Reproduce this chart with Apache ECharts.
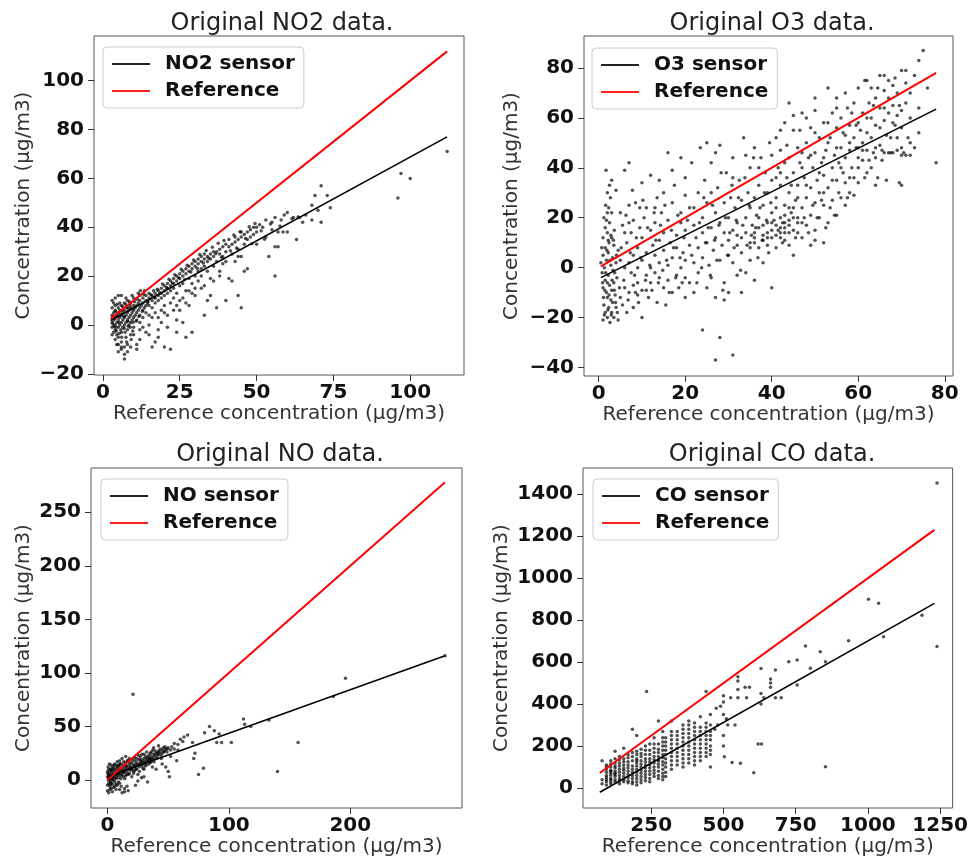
<!DOCTYPE html>
<html>
<head>
<meta charset="utf-8">
<script src="https://cdn.jsdelivr.net/npm/echarts@6/dist/echarts.min.js"></script>
<style>
html,body{margin:0;padding:0;background:#fff;}
#chart{width:971px;height:858px;}
</style>
</head>
<body>
<div id="chart"></div>
<script>
// ---------------- DATA ----------------
const panelTitles = ['Original NO2 data.', 'Original O3 data.', 'Original NO data.', 'Original CO data.'];
const sensorNames = ['NO2 sensor', 'O3 sensor', 'NO sensor', 'CO sensor'];
const refName = 'Reference';
const xAxisName = 'Reference concentration (µg/m3)';
const yAxisName = 'Concentration (µg/m3)';

// tick labels
const no2XTicks = [0, 25, 50, 75, 100];
const no2YTicks = [-20, 0, 20, 40, 60, 80, 100];
const o3XTicks = [0, 20, 40, 60, 80];
const o3YTicks = [-40, -20, 0, 20, 40, 60, 80];
const noXTicks = [0, 100, 200];
const noYTicks = [0, 50, 100, 150, 200, 250];
const coXTicks = [250, 500, 750, 1000, 1250];
const coYTicks = [0, 200, 400, 600, 800, 1000, 1200, 1400];

// reference (y = x) lines and sensor fit lines
const no2Ref = [[2.5, 2.5], [112, 112]];
const no2Fit = [[2.5, 1.8], [112, 77]];
const o3Ref = [[0.5, 0.5], [78, 78]];
const o3Fit = [[0.5, -4], [78, 63.5]];
const noRef = [[0, 0], [278, 278]];
const noFit = [[0, 3], [278, 116]];
const coRef = [[72, 72], [1230, 1230]];
const coFit = [[72, -20], [1230, 880]];

// scatter points (reference, sensor)
const no2Points = [
[3,1],[3,4],[3,-1],[3,7],[3.5,2],[3.5,-3],[3.5,5],[4,0],[4,3],[4,6],[4,-2],[4,8],[4.5,1],[4.5,4],[4.5,-4],
[5,2],[5,5],[5,-1],[5,7],[5,-5],[5.5,3],[5.5,0],[5.5,6],[6,1],[6,4],[6,8],[6,-3],[6,-7],[6.5,2],[6.5,5],[6.5,-1],
[7,3],[7,6],[7,0],[7,9],[7,-14],[7,-9],[7.5,4],[7.5,1],[7.5,-5],[8,5],[8,2],[8,7],[8,-2],[8,10],[8.5,3],[8.5,6],[8.5,0],
[9,4],[9,7],[9,1],[9,9],[9,-4],[9.5,5],[9.5,2],[10,6],[10,3],[10,8],[10,-1],[10,11],[10.5,4],[10.5,7],[11,5],[11,8],[11,2],
[11,-10],[11,-8],[11.5,6],[11.5,9],[12,7],[12,4],[12,10],[12,1],[12,12],[12.5,8],[13,9],[13,6],[13,3],[13,11],[13.5,7],
[3.2,0.5],[3.8,2.5],[4.2,-1],[4.8,3.5],[5.2,1],[5.8,-2],[6.2,6],[6.8,3.5],[7.2,-3],[7.8,7],[8.2,-0.5],[8.8,8],[9.2,-6],[9.8,1],
[4,-6],[5,-8],[6,-10],[8,-8],[10,-4],[12,-2],[3.5,9],[5.5,9],[7.5,11],[9.5,12],[11.5,13],[13.5,14],[3,-4],[4.5,-8],
[3.3,3.3],[3.6,-0.5],[4.1,5.5],[4.4,-2.5],[4.7,8.5],[5.3,-3.5],[5.6,4.5],[6.1,-5],[6.4,7.5],[6.9,-1.5],[7.4,8.5],[7.7,-7],
[8.1,1.5],[8.6,9.5],[8.9,-1],[9.4,6.5],[9.7,-2.5],[10.3,9.5],[10.8,1.5],[11.2,10.5],[11.7,3.5],[12.2,14],[12.8,5.5],[13.3,12.5],
[3,10],[4,11],[5,12],[6,12],[7,-12],[8,-11],[6,-9],[5,-11],
[14,10],[14,8],[14,5],[14,12],[14,-3],[14.5,9],[15,11],[15,8],[15,4],[15,13],[15,0],[16,10],[16,12],[16,7],[16,-9],[16.5,14],
[17,11],[17,13],[17,9],[17,5],[17,-7],[18,12],[18,14],[18,10],[18,3],[18,-2],[19,13],[19,15],[19,11],[19,6],[20,14],[20,16],
[20,12],[20,8],[20,-9],[21,15],[21,17],[21,13],[21,4],[22,16],[22,18],[22,14],[22,9],[22,-10],[23,17],[23,19],[23,15],[23,6],
[24,18],[24,20],[24,13],[24,2],[25,19],[25,21],[25,16],[25,10],[26,20],[26,22],[26,17],[26,1],[27,21],[27,23],[27,14],[27,-5],
[28,22],[28,24],[28,19],[28,8],[29,23],[29,25],[29,17],[29,-3],[30,24],[30,26],[30,20],[30,12],[31,25],[31,27],[31,22],
[32,26],[32,28],[32,23],[32,15],[33,27],[33,29],[33,24],[33,4],[34,28],[34,26],[34,22],[35,29],[35,27],[35,19],[36,30],
[36,28],[36,24],[37,30],[37,26],[37,7],[38,31],[38,29],[38,22],[39,32],[39,28],[40,33],[40,30],[40,26],[40,10],[41,32],
[41,35],[42,33],[42,29],[42,18],[43,34],[43,36],[43,26],[44,35],[44,31],[44,12],[45,36],[45,38],[45,28],[45,7],[46,37],
[46,33],[46,22],[47,38],[47,35],[48,39],[48,36],[49,40],[49,37],[50,40],[50,38],[50,33],[51,41],[52,40],[53,43],[53,36],
[54,28],[55,42],[55,39],[56,44],[56,20],[57,38],[57,32],[58,43],[59,45],[60,46],[60,38],[62,44],[63,35],[64,44],[65,42],
[66,45],[68,49],[68,43],[69,53],[70,47],[71,57],[71,42],[73,53],[74,48],[96,52],[97,62],[100,60],[112,71],
[16,3],[19,1],[21,-1],[23,11],[25,6],[27,9],[29,13],[31,18],[33,16],[35,12],[24,8],[28,14],[32,20],[36,18],[39,25],
[14.7,9.5],[15.6,12.4],[16.8,11.2],[17.7,14.6],[18.6,13.1],[19.4,16.8],[20.7,15.3],[21.5,18.7],[22.6,17.2],[23.4,20.5],
[24.6,19.3],[25.5,22.8],[26.6,18.6],[27.4,24.4],[28.6,21.7],[29.5,26.6],[30.7,23.2],[31.5,28.8],[32.7,25.4],[33.6,30.5],
[34.4,27.3],[35.6,31.8],[36.7,29.1],[37.5,33.4],[38.6,27.7],[39.4,34.6],[41.5,30.4],[42.6,36.8],[43.5,31.5],[44.6,38.2],
[46.4,35.4],[47.6,40.2],[48.5,33.2],[49.5,41.5],[51.5,38.6],[52.6,35.1],[54.5,41.3],[57.6,40.5],[58.6,38.1],[61.5,43.5],
[63.5,44.2],[44,28],[38,20],[30,15],[26,11],[20,5],[18,-5],[15,-4],[12,-6],[9,-9],[13,-1],[24,-3],[34,10],[41,19],[47,23],[56,32]
];

const o3Points = [
[0.5,2],[0.8,-2],[1,5],[1,-8],[1,12],[1.2,-15],[1.3,0],[1.5,8],[1.5,-5],[1.5,-18],[1.6,25],[1.7,39],[1.8,-10],[1.8,3],
[2,14],[2,-12],[2,-20],[2,30],[2.2,6],[2.2,-3],[2.3,-16],[2.4,10],[2.5,33],[2.5,-7],[2.5,18],[2.6,-22],[2.8,1],[2.8,-13],
[3,12],[3,-9],[3,22],[3,-18],[3.2,4],[3.3,-1],[3.5,9],[3.5,-6],[3.5,-20],[3.6,15],[3.8,-11],[4,2],[4,-16],[4,31],[4.2,-4],
[4.5,7],[4.5,-21],[4.8,-8],[1,-21],[1.5,16],[2,-6],[2.7,28],[3.2,-14],[2.2,11],[1.8,19],[3.7,-2],[0.7,8],[1.1,-12],
[1.2,20],[1.4,-9],[1.9,7],[2.1,-17],[2.3,24],[2.6,3],[2.9,-19],[3.1,-5],[3.4,11],[3.9,-14],[1.6,-2],[2.4,-11],[0.9,-6],
[3.0,35],[2.0,22],[1.3,-19],[2.8,13],[3.6,-9],[4.3,-18],[4.1,5],
[5,22],[5,-12],[5,3],[5.5,-15],[5.5,17],[6,-8],[6,39],[6,0],[6.5,10],[6.5,-18],[7,2],[7,-10],[7,42],[7,25],[7.5,-2],[7.5,14],
[8,-7],[8,19],[8,5],[8.5,-10],[8.5,26],[9,0],[9,8],[9,-6],[9.5,24],[9.5,16],[10,-20],[10,3],[10,-9],[10,12],[10.5,20],
[11,-3],[11,6],[11,24],[11.5,-12],[12,0],[12,15],[12,37],[12,-6],[12.5,9],[13,-2],[13,18],[13,5],[13.5,-14],[13.5,28],
[14,-4],[14,11],[14,2],[14.5,22],[15,-8],[15,7],[15,30],[15,14],[15.5,-15],[16,1],[16,46],[16,19],[16,-5],[16.5,10],
[17,-10],[17,4],[17,26],[17.5,33],[18,-3],[18,13],[18,8],[18.5,-8],[19,22],[19,0],[19,44],[19.5,6],[20,-12],[20,15],
[20,3],[20,36],[20,29],[20,-4],
[5.2,8],[5.8,-5],[6.3,21],[6.8,-13],[7.3,6],[7.8,31],[8.3,-3],[8.7,12],[9.2,-14],[9.7,4],[10.2,27],[10.8,-5],[11.3,16],
[11.8,1],[12.3,-9],[12.8,22],[13.2,11],[13.8,-6],[14.3,17],[14.8,-1],[15.3,25],[15.7,3],[16.3,-10],[16.8,15],[17.3,8],
[17.8,-4],[18.3,21],[18.8,4],[19.3,-6],[19.7,12],[6,14],[8,-16],[11,-9],[14,35],[17,39],[19,18],[10,34],[7,18],[9,-11],[13,24],
[21,9],[21,-6],[21,24],[21.5,42],[22,2],[22,17],[22,-10],[22.5,12],[23,30],[23,-2],[23,8],[23.5,48],[24,-25],[24,14],
[24,20],[24,4],[24.5,35],[25,-8],[25,10],[25,50],[25,26],[25.5,1],[26,16],[26,-4],[26,42],[26.5,7],[27,-37],[27,22],
[27,12],[27,-12],[27.5,32],[28,-28],[28,3],[28,18],[28,49],[28.5,9],[29,26],[29,-6],[29,14],[29.5,38],[30,5],[30,20],
[30,11],[30,-10],[30.5,28],[31,-35],[31,15],[31,44],[31,2],[31.5,24],[32,9],[32,18],[32,-3],[32.5,35],[33,12],[33,27],
[33,6],[33.5,52],[34,20],[34,-2],[34,14],[34.5,30],[35,10],[35,24],[35,40],[35,3],[35.5,17],[36,12],[36,28],[36,48],
[36,-5],[36.5,21],[37,8],[37,33],[37,16],[37.5,44],[38,13],[38,25],[38,2],[38.5,38],[39,18],[39,30],[39,9],[39.5,50],
[40,15],[40,22],[40,35],[40,12],[40,45],[40,-8],
[20.5,19],[21.5,5],[22,24],[22.7,-6],[23.3,18],[23.8,0],[24.3,28],[24.7,10],[25.3,16],[25.8,-3],[26.3,25],[26.8,11],
[27.3,3],[27.8,17],[28.3,38],[28.7,-9],[29.3,20],[29.8,5],[30.3,14],[30.8,33],[31.3,8],[31.8,19],[32.3,28],[32.8,-1],
[33.3,17],[33.8,36],[34.3,9],[34.8,25],[35.3,13],[35.8,44],[36.3,16],[36.8,4],[37.3,24],[37.8,11],[38.3,30],[38.8,19],
[39.3,6],[39.8,26],[37,40],[34,45],[31,36],[27,46],[33,-10],[29,-13],[26,30],[38,17],[36,14],[39,12],[35,8],[32,13],
[41,17],[41,28],[41,52],[41,8],[41.5,40],[42,14],[42,20],[42,33],[42,47],[42.5,18],[43,16],[43,25],[43,58],[43,11],
[43.5,36],[44,19],[44,30],[44,44],[44,66],[44.5,22],[45,5],[45,15],[45,38],[45,55],[45.5,27],[46,18],[46,33],[46,48],
[46,20],[46.5,42],[47,62],[47,24],[47,12],[47.5,36],[48,28],[48,50],[48,17],[48.5,44],[49,9],[49,32],[49,56],[49,21],
[49.5,40],[50,26],[50,46],[50,63],[50,15],[50.5,35],[51,30],[51,52],[51,20],[51.5,42],[52,10],[52,37],[52,58],[52,25],
[52.5,47],[53,72],[53,32],[53,18],[53.5,52],[54,40],[54,27],[54,62],[54.5,45],[55,21],[55,35],[55,56],[55,68],[55.5,42],
[56,28],[56,48],[56,60],[56.5,38],[57,25],[57,53],[57,44],[57.5,64],[58,30],[58,57],[58,47],[58.5,40],[59,29],[59,52],
[59,66],[59.5,48],[60,34],[60,44],[60,58],[60,72],[60,40],
[40.5,19],[41,24],[41.5,15],[42,38],[42.5,10],[43,21],[43.5,49],[44,14],[44.5,33],[45,24],[45.5,12],[46,28],[46.5,55],
[47,40],[47.5,20],[48,33],[48.5,14],[49,45],[49.5,25],[50,54],[50.5,20],[51,38],[51.5,27],[52,44],[52.5,16],[53,50],
[53.5,24],[54,35],[54.5,21],[55,48],[55.5,30],[56,40],[56.5,54],[57,34],[57.5,28],[58,50],[58.5,62],[59,36],[59.5,57],
[60,48],[48,60],[50,68],[45,61],[42,55],[55,64],[57,70],[44,9],[46,14],[50,11],[52,30],[41,36],[43,42],[47,46],[53,58],[58,36],
[61,50],[61,62],[61,43],[61.5,75],[62,38],[62,54],[62,47],[62.5,66],[63,40],[63,60],[63,72],[63.5,46],[64,44],[64,57],
[64,68],[64.5,36],[65,49],[65,64],[65,77],[65.5,43],[66,46],[66,59],[66,71],[66.5,35],[67,46],[67,62],[67,75],[67.5,52],
[68,46],[68,65],[68,73],[68.5,57],[69,47],[69,61],[69,70],[69.5,34],[70,33],[70,79],[70,63],[70,48],[71,45],[71,79],
[71,74],[71.5,52],[72,45],[72,70],[74,54],[74,83],[75,87],[78,42],
[60.5,55],[61,47],[61.5,36],[62,60],[62.5,43],[63,52],[63.5,65],[64,48],[64.5,72],[65,56],[65.5,47],[66,64],[66.5,53],
[67,68],[67.5,46],[68,58],[68.5,76],[69,52],[69.5,65],[70,56],[70.5,46],[71,66],[72,60],[73,48],[73,77],[74,64],[76,72],
[62,75],[66,77],[64,33],[70,45],[72,50],
[42,16],[43,18],[41,13],[44,17],[42,12],[43,14],[38,11],[39,14],[36,10],[45,20],[47,18],[40,18],[37,20],[44,24]
];

const noPoints = [
[0,-5],[0,3],[0,8],[0,-10],[0.5,0],[0.5,12],[1,5],[1,-3],[1,-12],[1.5,2],[1.5,15],[2,8],[2,-6],[2,0],[2,4],[2.5,10],
[2.5,-2],[3,6],[3,-8],[3,14],[3,1],[3.5,3],[4,9],[4,-4],[4,12],[4,-11],[4.5,5],[5,0],[5,7],[5,11],[5,-7],[5.5,3],
[6,10],[6,-2],[6,15],[6,5],[7,8],[7,1],[7,-9],[7,13],[8,4],[8,11],[8,-5],[8,17],[8,7],[9,9],[9,2],[9,14],[10,6],
[10,12],[10,-3],[10,18],[10,9],[11,8],[11,15],[11,1],[12,11],[12,5],[12,-12],[12,20],[13,9],[13,14],[13,3],[14,12],
[14,7],[14,-8],[15,10],[15,16],[15,4],[15,22],[16,13],[16,8],[17,11],[17,18],[17,-10],[18,14],[18,6],[18,20],[19,12],
[19,9],[20,16],[20,3],[20,11],[21,80],[21,14],[22,18],[22,8],[22,13],[23,15],[23,-5],[24,17],[24,10],[24,20],[25,14],
[25,5],[26,19],[26,12],[27,16],[27,22],[28,13],[28,2],[29,18],[29,15],[30,20],[30,10],[30,24],[31,17],[32,19],[32,14],
[33,21],[33,-2],[34,18],[34,23],[35,20],[35,16],[36,22],[36,26],[37,19],[37,12],[38,24],[38,21],[39,23],[40,25],[40,20],
[41,22],[42,27],[42,24],[43,26],[44,23],[45,28],[45,25],[46,30],[47,27],[48,29],[48,12],[49,26],[50,30],[50,8],[51,3],
[52,28],[53,31],[55,29],[57,18],[58,33],[60,38],[62,36],[63,40],[66,42],[70,35],[71,20],[72,25],[75,5],[79,11],[80,44],
[84,50],[88,46],[90,35],[92,43],[94,35],[102,35],[112,57],[113,52],[118,50],[133,56],[140,8],[157,35],[186,78],[196,95],
[278,116],
[1,1],[2,-9],[3,-3],[4,2],[6,-6],[7,5],[9,-2],[11,4],[13,7],[16,5],[18,10],[21,9],[23,12],[26,15],[28,17],[31,13],[34,15],[36,17],
[0.3,6],[1.2,10],[2.2,-4],[3.3,9],[4.2,0],[5.3,14],[6.3,2],[7.3,-4],[8.3,13],[9.3,5],[10.3,15],[11.3,-6],[12.3,8],[13.3,17],
[14.3,1],[15.3,13],[16.3,18],[17.3,5],[18.3,16],[19.3,11],[20.3,19],[21.3,6],[22.3,21],[23.3,10],[24.3,14],[25.3,23],
[26.3,8],[27.3,19],[28.3,24],[29.3,11],[30.3,16],[31.3,22],[32.3,26],[33.3,18],[34.3,20],[35.3,25],[36.3,19],[37.3,28],
[38.3,17],[39.3,27],[41.3,25],[43.3,29],[44.3,20],[46.3,26],[47.3,31],[49.3,29],[16,-6],[10,-9],[14,-11],[25,-1],[30,3],
[40,10],[45,15],[52,22],[55,34],[58,28],[42,32],[38,30]
];

const coPoints = [
[80,130],[80,40],[80,20],
[95,30],[95,60],[95,90],[95,110],[95,15],[95,40],[95,75],[95,100],[95,50],
[110,20],[110,45],[110,70],[110,100],[110,130],[110,40],[110,30],[110,60],[110,80],[110,115],[110,85],
[125,30],[125,55],[125,80],[125,105],[125,140],[125,175],[125,40],[125,70],[125,95],[125,120],[125,65],
[140,35],[140,60],[140,90],[140,120],[140,150],[140,45],[140,75],[140,135],[140,20],[140,105],
[155,40],[155,70],[155,95],[155,125],[155,190],[155,30],[155,85],[155,110],[155,140],[155,55],
[170,25],[170,50],[170,80],[170,110],[170,145],[170,35],[170,65],[170,125],[170,160],[170,95],
[185,30],[185,60],[185,90],[185,130],[185,170],[185,280],[185,45],[185,105],[185,150],[185,20],[185,75],
[200,15],[200,45],[200,75],[200,105],[200,140],[200,175],[200,250],[200,30],[200,90],[200,130],[200,160],[200,60],[200,120],
[215,40],[215,70],[215,100],[215,130],[215,165],[215,25],[215,55],[215,115],[215,150],[215,185],[215,85],
[230,50],[230,80],[230,110],[230,140],[230,180],[234,460],[230,35],[230,65],[230,125],[230,160],[230,200],[230,95],
[245,30],[245,65],[245,95],[245,125],[245,160],[245,210],[245,45],[245,110],[245,140],[245,180],[245,80],
[260,55],[260,85],[260,120],[260,150],[260,190],[260,240],[260,70],[260,135],[260,170],[260,210],[260,100],
[275,45],[275,80],[275,115],[275,150],[275,185],[275,320],[275,60],[275,100],[275,135],[275,170],[275,210],[275,130],
[290,40],[290,70],[290,110],[290,145],[290,180],[290,220],[290,270],[290,55],[290,90],[290,125],[290,160],[290,200],[290,240],
[300,55],[300,100],[300,140],[300,200],[300,240],[300,75],[300,120],[300,160],[300,180],[300,220],
[320,90],[320,130],[320,170],[320,210],[320,250],[320,320],[320,110],[320,150],[320,190],[320,230],[320,270],
[340,110],[340,150],[340,190],[340,230],[340,270],[340,130],[340,170],[340,210],[340,250],
[360,100],[360,140],[360,180],[360,220],[360,260],[360,300],[360,120],[360,160],[360,200],[360,240],[360,280],
[380,120],[380,160],[380,200],[380,240],[380,280],[380,320],[380,140],[380,180],[380,220],[380,260],[380,300],
[400,110],[400,150],[400,190],[400,230],[400,270],[400,310],[400,130],[400,170],[400,210],[400,250],[400,290],
[420,130],[420,170],[420,210],[420,250],[420,290],[420,340],[420,150],[420,190],[420,230],[420,270],
[440,150],[440,190],[440,230],[440,270],[440,310],[440,460],[440,170],[440,250],[440,290],[440,210],
[455,100],[455,160],[455,200],[455,250],[455,300],[455,350],[455,180],[455,230],[455,270],
[470,280],[475,380],[480,300],[490,390],[500,440],[500,410],[500,350],[500,250],[500,200],[503,149],[510,330],[515,300],
[525,430],[530,122],[540,300],[550,530],[550,510],[550,470],[550,430],[559,118],[575,480],[580,430],[590,480],[605,73],
[620,210],[632,210],[630,400],[630,450],[630,570],[640,430],[663,520],[663,500],[663,480],[680,430],[680,563],[700,430],
[726,602],[755,610],[755,491],[784,677],[801,571],[835,650],[853,602],[853,102],[933,702],[1002,900],[1037,880],
[1054,721],[1187,823],[1239,1453],[1239,674]
];

// ---------------- CHART ----------------
const FONT = '"DejaVu Sans", sans-serif';
const fmt = v => (v < 0 ? '\u2212' + Math.abs(v) : String(v));

const panels = [
  {grid:{left:94, top:36, width:370, height:339}, xr:[-2.9,117.5], yr:[-20.5,118.3], xt:no2XTicks, yt:no2YTicks, pts:no2Points, ref:no2Ref, fit:no2Fit, legend:{left:103, top:47}, title:{x:277, y:7}, yGap:60},
  {grid:{left:584, top:36, width:369, height:340}, xr:[-3.4,81.9], yr:[-43.4,92.8], xt:o3XTicks, yt:o3YTicks, pts:o3Points, ref:o3Ref, fit:o3Fit, legend:{left:592, top:48}, title:{x:767, y:7}, yGap:62},
  {grid:{left:91, top:468, width:371, height:340}, xr:[-13.6,292], yr:[-26.2,291.3], xt:noXTicks, yt:noYTicks, pts:noPoints, ref:noRef, fit:noFit, legend:{left:101, top:479}, title:{x:275, y:438}, yGap:57},
  {grid:{left:583, top:468, width:370, height:340}, xr:[14,1293], yr:[-95,1525], xt:coXTicks, yt:coYTicks, pts:coPoints, ref:coRef, fit:coFit, legend:{left:593, top:479}, title:{x:767, y:438}, yGap:71}
];

const option = {
  backgroundColor:'#fff',
  animation:false,
  title:[], grid:[], xAxis:[], yAxis:[], legend:[], series:[]
};

panels.forEach((p, i) => {
  option.title.push({
    text: panelTitles[i], left: p.title.x, top: p.title.y, textAlign:'center',
    textStyle:{fontFamily:FONT, fontSize:24, fontWeight:'normal', color:'#222'}
  });
  option.grid.push(Object.assign({show:true, borderColor:'#555', borderWidth:1, backgroundColor:'transparent'}, p.grid));
  option.xAxis.push({
    type:'value', gridIndex:i, min:p.xr[0], max:p.xr[1],
    name:xAxisName, nameLocation:'middle', nameGap:28,
    nameTextStyle:{fontFamily:FONT, fontSize:20, color:'#333'},
    axisLine:{show:false, onZero:false}, splitLine:{show:false},
    axisTick:{show:true, length:6, lineStyle:{color:'#333'}, customValues:p.xt},
    axisLabel:{show:true, customValues:p.xt, formatter:fmt, fontFamily:FONT, fontSize:20, fontWeight:'bold', color:'#111', margin:8}
  });
  option.yAxis.push({
    type:'value', gridIndex:i, min:p.yr[0], max:p.yr[1],
    name:yAxisName, nameLocation:'middle', nameGap:p.yGap,
    nameTextStyle:{fontFamily:FONT, fontSize:20, color:'#333'},
    axisLine:{show:false, onZero:false}, splitLine:{show:false},
    axisTick:{show:true, length:6, lineStyle:{color:'#333'}, customValues:p.yt},
    axisLabel:{show:true, customValues:p.yt, formatter:fmt, fontFamily:FONT, fontSize:20, fontWeight:'bold', color:'#111', margin:10}
  });
  option.legend.push({
    left:p.legend.left, top:p.legend.top, orient:'vertical',
    data:[sensorNames[i], refName],
    icon:'rect', itemWidth:38, itemHeight:2, itemGap:7,
    padding:[7,9,7,9],
    backgroundColor:'rgba(255,255,255,0.85)', borderColor:'#ccc', borderWidth:1, borderRadius:4,
    textStyle:{fontFamily:FONT, fontSize:20, fontWeight:'bold', color:'#111', padding:[0,0,0,10]},
    selectedMode:false
  });
  option.series.push({
    type:'scatter', name:'points'+i, xAxisIndex:i, yAxisIndex:i, data:p.pts,
    symbolSize:3.5, itemStyle:{color:'rgba(0,0,0,0.85)'}, z:2, silent:true
  });
  option.series.push({
    type:'line', name:sensorNames[i], xAxisIndex:i, yAxisIndex:i, data:p.fit,
    showSymbol:false, symbol:'none', lineStyle:{color:'#000', width:1.6}, itemStyle:{color:'#222'}, z:3
  });
  option.series.push({
    type:'line', name:refName, xAxisIndex:i, yAxisIndex:i, data:p.ref,
    showSymbol:false, symbol:'none', lineStyle:{color:'#ff0000', width:2}, itemStyle:{color:'#ff2020'}, z:4
  });
});

const chart = echarts.init(document.getElementById('chart'), null, {renderer:'canvas'});
chart.setOption(option);
</script>
</body>
</html>
